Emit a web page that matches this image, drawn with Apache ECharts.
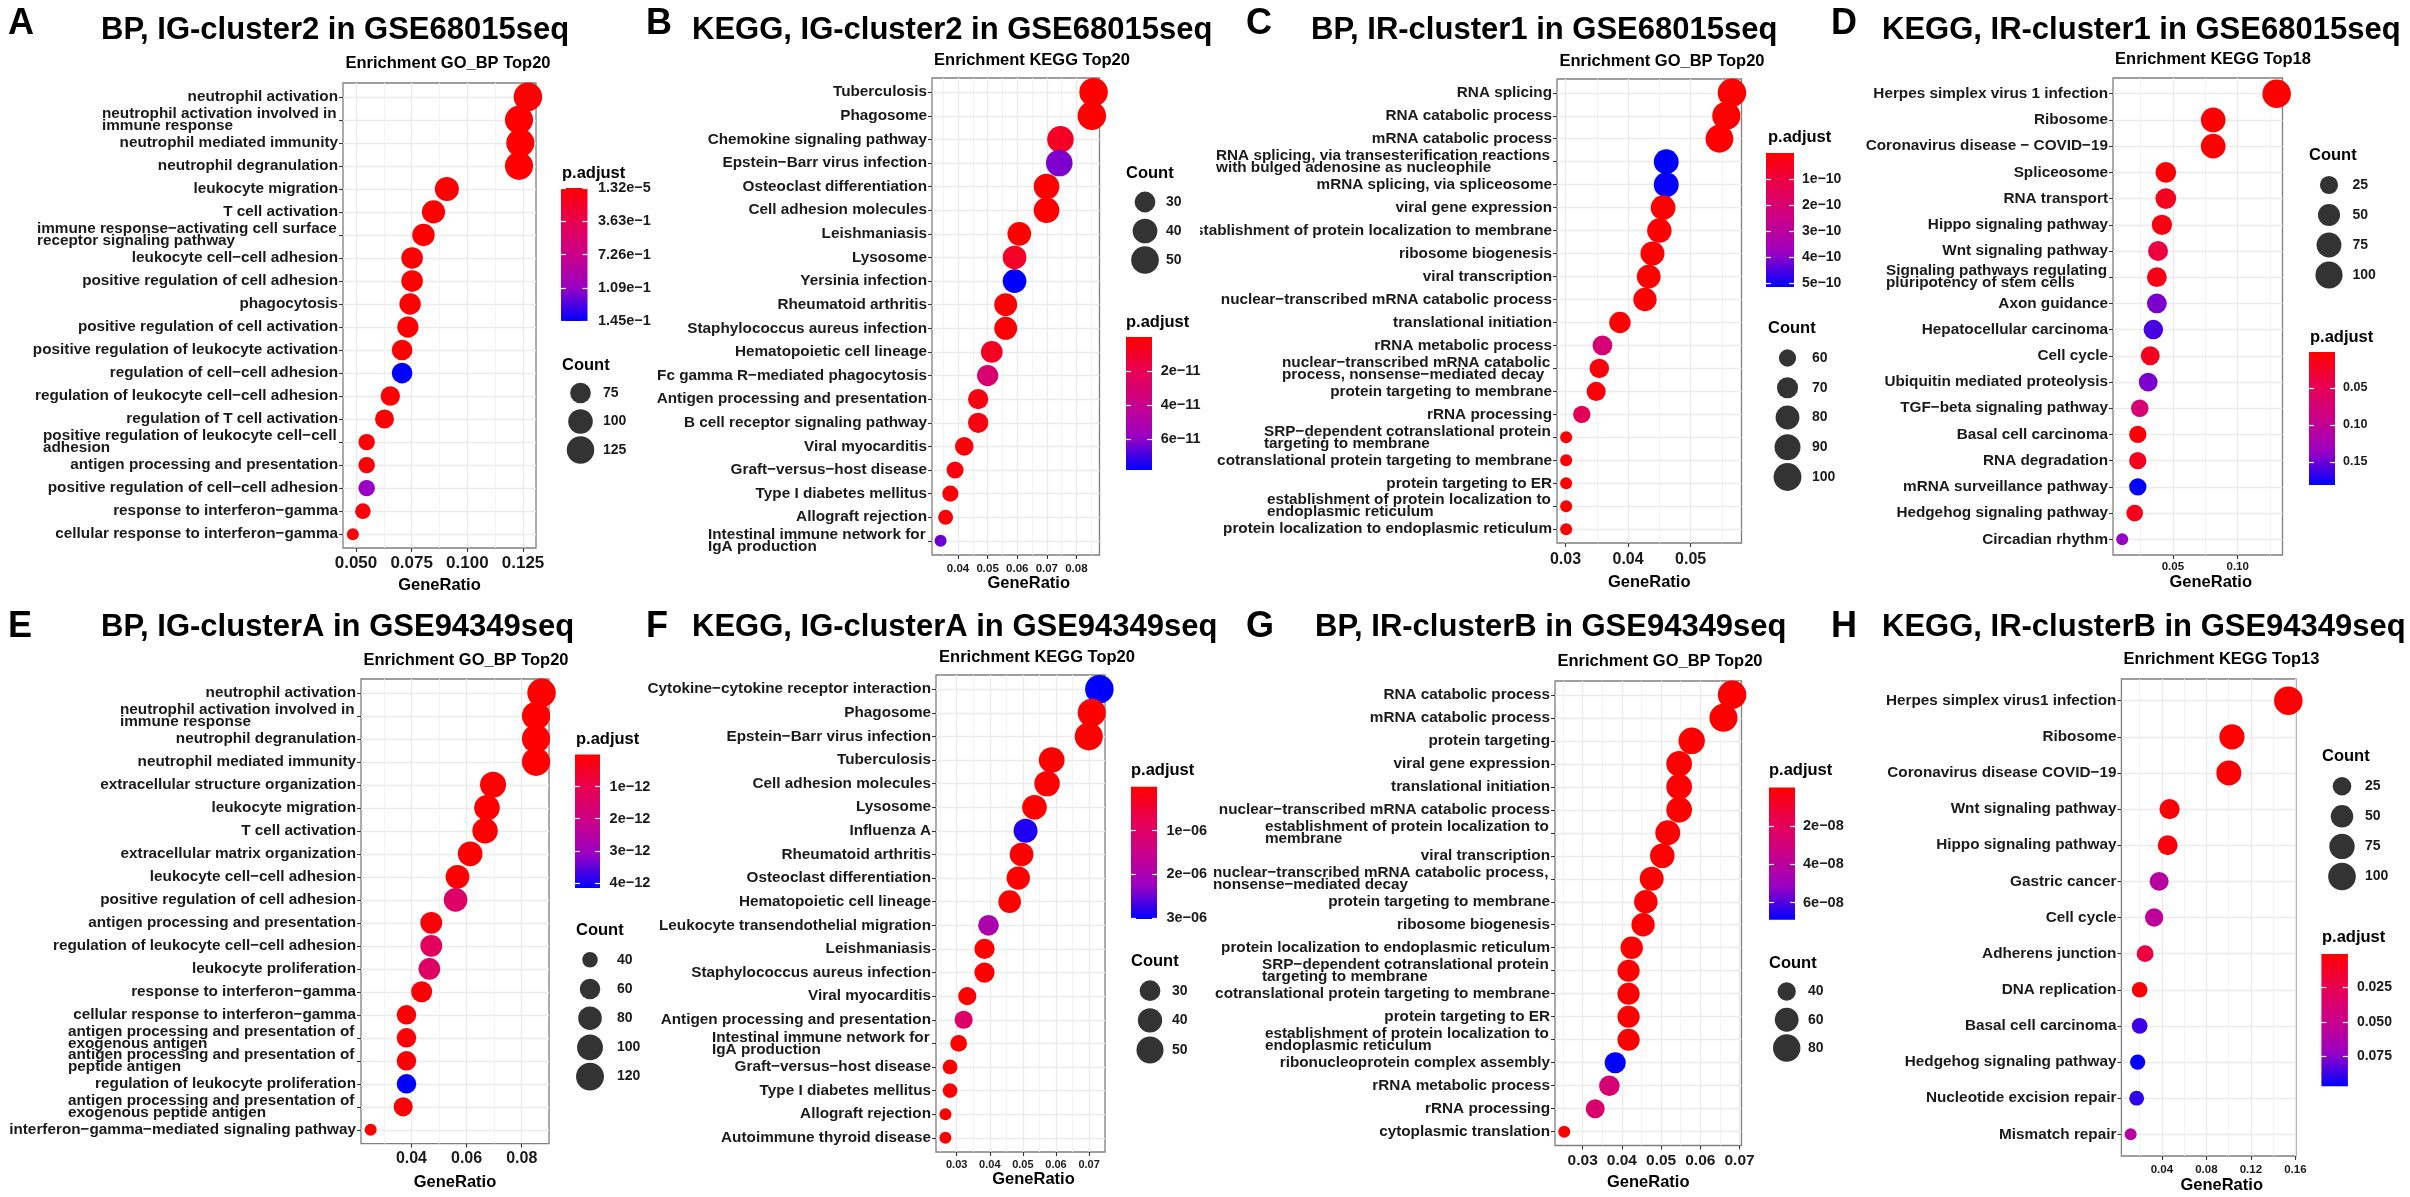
<!DOCTYPE html>
<html><head><meta charset="utf-8">
<script src="https://cdn.jsdelivr.net/npm/echarts@6/dist/echarts.min.js"></script>
<style>html,body{margin:0;padding:0;background:#fff}#c{width:2410px;height:1197px}</style>
</head><body><div id="c"></div>
<script>
// ---------------- DATA ----------------
const A_terms = ['neutrophil activation','neutrophil activation involved in\nimmune response','neutrophil mediated immunity','neutrophil degranulation','leukocyte migration','T cell activation','immune response−activating cell surface\nreceptor signaling pathway','leukocyte cell−cell adhesion','positive regulation of cell adhesion','phagocytosis','positive regulation of cell activation','positive regulation of leukocyte activation','regulation of cell−cell adhesion','regulation of leukocyte cell−cell adhesion','regulation of T cell activation','positive regulation of leukocyte cell−cell\nadhesion','antigen processing and presentation','positive regulation of cell−cell adhesion','response to interferon−gamma','cellular response to interferon−gamma'];
const A_ratio = [0.1272,0.1232,0.1238,0.1232,0.0908,0.0848,0.0803,0.0752,0.0752,0.0743,0.0733,0.0707,0.0707,0.0654,0.0628,0.0548,0.0548,0.0548,0.0531,0.0486];
const A_count = [135,131,131,131,96,90,85,80,80,79,78,75,75,69,67,58,58,58,56,52];
const A_padj = [1.32e-56,4.1e-55,3.2e-55,8.6e-55,2.4e-30,5.1e-28,1.2e-27,3.3e-26,3.5e-26,6.2e-26,8.4e-26,2.2e-24,1.45e-18,4.8e-22,1.3e-21,2.1e-20,2.6e-20,1.09e-18,5.5e-20,3.4e-20];
const A_xticks = [0.05,0.075,0.1,0.125];
const A_pticks = [1.32e-56,3.63e-19,7.26e-19,1.09e-18,1.45e-18];
const A_plabels = ['1.32e−56','3.63e−19','7.26e−19','1.09e−18','1.45e−18'];
const A_countKeys = [75,100,125];

const B_terms = ['Tuberculosis','Phagosome','Chemokine signaling pathway','Epstein−Barr virus infection','Osteoclast differentiation','Cell adhesion molecules','Leishmaniasis','Lysosome','Yersinia infection','Rheumatoid arthritis','Staphylococcus aureus infection','Hematopoietic cell lineage','Fc gamma R−mediated phagocytosis','Antigen processing and presentation','B cell receptor signaling pathway','Viral myocarditis','Graft−versus−host disease','Type I diabetes mellitus','Allograft rejection','Intestinal immune network for\nIgA production'];
const B_ratio = [0.0858,0.0852,0.0746,0.0742,0.0699,0.0699,0.0607,0.0591,0.0591,0.0561,0.0561,0.0514,0.0500,0.0468,0.0468,0.0421,0.0390,0.0374,0.0358,0.0341];
const B_count = [53,53,46,46,43,43,37,37,37,35,35,32,31,29,29,26,24,23,22,21];
const B_padj = [1.0e-20,1.1e-19,9.0e-12,6.2e-11,5.0e-14,8.0e-14,3.0e-13,9.5e-12,7.8e-11,6.0e-13,8.0e-13,8.5e-12,3.0e-11,3.5e-12,4.0e-12,2.0e-12,3.0e-12,2.2e-12,2.5e-12,6.4e-11];
const B_xticks = [0.04,0.05,0.06,0.07,0.08];
const B_pticks = [2e-11,4e-11,6e-11];
const B_plabels = ['2e−11','4e−11','6e−11'];
const B_countKeys = [30,40,50];

const C_terms = ['RNA splicing','RNA catabolic process','mRNA catabolic process','RNA splicing, via transesterification reactions\nwith bulged adenosine as nucleophile','mRNA splicing, via spliceosome','viral gene expression','establishment of protein localization to membrane','ribosome biogenesis','viral transcription','nuclear−transcribed mRNA catabolic process','translational initiation','rRNA metabolic process','nuclear−transcribed mRNA catabolic\nprocess, nonsense−mediated decay','protein targeting to membrane','rRNA processing','SRP−dependent cotranslational protein\ntargeting to membrane','cotranslational protein targeting to membrane','protein targeting to ER','establishment of protein localization to\nendoplasmic reticulum','protein localization to endoplasmic reticulum'];
const C_ratio = [0.0566,0.0557,0.0546,0.0461,0.0461,0.0456,0.0450,0.0439,0.0433,0.0427,0.0387,0.0359,0.0354,0.0349,0.0326,0.0301,0.0301,0.0301,0.0301,0.0301];
const C_count = [104,102,100,85,85,84,83,81,80,78,71,66,65,64,60,55,55,55,55,55];
const C_padj = [1.0e-20,3.0e-19,1.0e-18,5.16e-10,5.1e-10,2.0e-15,5.0e-15,1.0e-14,3.0e-14,5.0e-14,1.0e-12,2.1e-10,2.0e-11,1.5e-11,1.5e-10,1.0e-12,1.1e-12,1.2e-12,1.3e-12,1.5e-12];
const C_xticks = [0.03,0.04,0.05];
const C_pticks = [1e-10,2e-10,3e-10,4e-10,5e-10];
const C_plabels = ['1e−10','2e−10','3e−10','4e−10','5e−10'];
const C_countKeys = [60,70,80,90,100];

const D_terms = ['Herpes simplex virus 1 infection','Ribosome','Coronavirus disease − COVID−19','Spliceosome','RNA transport','Hippo signaling pathway','Wnt signaling pathway','Signaling pathways regulating\npluripotency of stem cells','Axon guidance','Hepatocellular carcinoma','Cell cycle','Ubiquitin mediated proteolysis','TGF−beta signaling pathway','Basal cell carcinoma','RNA degradation','mRNA surveillance pathway','Hedgehog signaling pathway','Circadian rhythm'];
const D_ratio = [0.1300,0.0811,0.0811,0.0446,0.0446,0.0416,0.0386,0.0377,0.0377,0.0350,0.0326,0.0310,0.0245,0.0230,0.0230,0.0230,0.0206,0.0110];
const D_count = [117,73,73,40,40,37,35,34,34,32,29,28,22,21,21,21,19,10];
const D_padj = [0.0014,0.0020,0.0021,0.0050,0.0194,0.0104,0.0373,0.0140,0.145,0.160,0.0194,0.145,0.0732,0.0050,0.0194,0.181,0.0158,0.136];
const D_xticks = [0.05,0.10];
const D_pticks = [0.05,0.10,0.15];
const D_plabels = ['0.05','0.10','0.15'];
const D_countKeys = [25,50,75,100];

const E_terms = ['neutrophil activation','neutrophil activation involved in\nimmune response','neutrophil degranulation','neutrophil mediated immunity','extracellular structure organization','leukocyte migration','T cell activation','extracellular matrix organization','leukocyte cell−cell adhesion','positive regulation of cell adhesion','antigen processing and presentation','regulation of leukocyte cell−cell adhesion','leukocyte proliferation','response to interferon−gamma','cellular response to interferon−gamma','antigen processing and presentation of\nexogenous antigen','antigen processing and presentation of\npeptide antigen','regulation of leukocyte proliferation','antigen processing and presentation of\nexogenous peptide antigen','interferon−gamma−mediated signaling pathway'];
const E_ratio = [0.0872,0.0852,0.0852,0.0852,0.0696,0.0674,0.0667,0.0613,0.0567,0.0560,0.0472,0.0472,0.0465,0.0437,0.0382,0.0382,0.0382,0.0382,0.0370,0.0252];
const E_count = [126,123,123,123,101,97,96,89,82,81,68,68,67,63,55,55,55,55,53,36];
const E_padj = [1.0e-20,2.0e-20,2.2e-20,3.0e-20,1.0e-16,2.0e-16,3.0e-16,5.0e-15,4.0e-14,1.46e-12,1.2e-13,1.25e-12,1.37e-12,8.0e-14,5.0e-14,6.0e-14,7.0e-14,4.16e-12,9.0e-14,1.0e-14];
const E_xticks = [0.04,0.06,0.08];
const E_pticks = [1e-12,2e-12,3e-12,4e-12];
const E_plabels = ['1e−12','2e−12','3e−12','4e−12'];
const E_countKeys = [40,60,80,100,120];

const F_terms = ['Cytokine−cytokine receptor interaction','Phagosome','Epstein−Barr virus infection','Tuberculosis','Cell adhesion molecules','Lysosome','Influenza A','Rheumatoid arthritis','Osteoclast differentiation','Hematopoietic cell lineage','Leukocyte transendothelial migration','Leishmaniasis','Staphylococcus aureus infection','Viral myocarditis','Antigen processing and presentation','Intestinal immune network for\nIgA production','Graft−versus−host disease','Type I diabetes mellitus','Allograft rejection','Autoimmune thyroid disease'];
const F_ratio = [0.0731,0.0708,0.0699,0.0587,0.0573,0.0535,0.0508,0.0496,0.0486,0.0460,0.0396,0.0384,0.0384,0.0332,0.0321,0.0306,0.0280,0.0280,0.0266,0.0266];
const F_count = [56,54,54,45,44,41,39,38,37,35,30,29,29,25,25,23,21,21,20,20];
const F_padj = [3.02e-6,1.0e-20,2.0e-20,1.0e-16,2.0e-16,1.0e-15,2.87e-6,5.0e-15,8.0e-15,2.0e-14,1.96e-6,5.0e-12,6.0e-12,2.0e-9,1.06e-6,5.0e-10,1.0e-9,1.2e-9,2.0e-9,3.0e-9];
const F_xticks = [0.03,0.04,0.05,0.06,0.07];
const F_pticks = [1e-6,2e-6,3e-6];
const F_plabels = ['1e−06','2e−06','3e−06'];
const F_countKeys = [30,40,50];

const G_terms = ['RNA catabolic process','mRNA catabolic process','protein targeting','viral gene expression','translational initiation','nuclear−transcribed mRNA catabolic process','establishment of protein localization to\nmembrane','viral transcription','nuclear−transcribed mRNA catabolic process,\nnonsense−mediated decay','protein targeting to membrane','ribosome biogenesis','protein localization to endoplasmic reticulum','SRP−dependent cotranslational protein\ntargeting to membrane','cotranslational protein targeting to membrane','protein targeting to ER','establishment of protein localization to\nendoplasmic reticulum','ribonucleoprotein complex assembly','rRNA metabolic process','rRNA processing','cytoplasmic translation'];
const G_ratio = [0.0681,0.0659,0.0578,0.0546,0.0546,0.0546,0.0517,0.0503,0.0476,0.0461,0.0454,0.0425,0.0417,0.0417,0.0417,0.0417,0.0383,0.0368,0.0332,0.0253];
const G_count = [87,84,74,70,70,70,66,64,61,59,58,54,53,53,53,53,49,47,42,32];
const G_padj = [1.0e-16,2.0e-16,1.0e-14,3.0e-14,4.0e-14,5.0e-14,1.0e-13,2.0e-13,5.0e-13,8.0e-13,1.0e-12,2.0e-12,3.0e-12,3.2e-12,3.4e-12,3.6e-12,6.9e-8,2.8e-8,2.6e-8,1.0e-11];
const G_xticks = [0.03,0.04,0.05,0.06,0.07];
const G_pticks = [2e-8,4e-8,6e-8];
const G_plabels = ['2e−08','4e−08','6e−08'];
const G_countKeys = [40,60,80];

const H_terms = ['Herpes simplex virus1 infection','Ribosome','Coronavirus disease COVID−19','Wnt signaling pathway','Hippo signaling pathway','Gastric cancer','Cell cycle','Adherens junction','DNA replication','Basal cell carcinoma','Hedgehog signaling pathway','Nucleotide excision repair','Mismatch repair'];
const H_ratio = [0.1537,0.1030,0.1002,0.0469,0.0452,0.0375,0.0330,0.0249,0.0200,0.0200,0.0182,0.0173,0.0119];
const H_count = [110,74,72,34,32,27,24,18,14,14,13,12,9];
const H_padj = [0.00055,0.0010,0.0011,0.0030,0.0040,0.058,0.055,0.0198,0.0025,0.087,0.0966,0.089,0.058];
const H_xticks = [0.04,0.08,0.12,0.16];
const H_pticks = [0.025,0.05,0.075];
const H_plabels = ['0.025','0.050','0.075'];
const H_countKeys = [25,50,75,100];

// ---------------- LAYOUT / STYLE ----------------
const FONT = '"Liberation Sans", Arial, Helvetica, sans-serif';
const PAL = ['#FF0000','#E80050','#CA0089','#9A00C3','#0000FF'];
const DMIN = 12, DMAX = 28.5;
const TXT = '#1a1a1a';

const layout = {
  A:{letter:[8,24], title:[101,30], sub:[448,63], grid:[343,83,536,548], xlim:[0.04417,0.13083], dec:3, xfs:17, xm:6.5, ng:29, ns:0,
     ptitle:[562,173], pbar:[561,188,587.5,321], pm:10.5, pfs:14.5, pclip:57, ctitle:[562,365], cleg:[580.5,393,450], cm:7.5},
  B:{letter:[646,24], title:[692,30], sub:[1032,60], grid:[932,78,1099.5,555], xlim:[0.0312,0.0878], dec:2, xfs:11.5, xm:7.5, ng:20, ns:13,
     ptitle:[1126,322], pbar:[1126,337,1152,470], pm:8.7, pfs:14.5, ctitle:[1126,173], cleg:[1145,202,260], cm:6},
  C:{letter:[1246,24], title:[1311,30], sub:[1662,61], grid:[1557,79,1741.5,543], xlim:[0.02864,0.05813], dec:2, xfs:16, xm:9, ng:31, ns:0,
     ptitle:[1768,137], pbar:[1766,153,1794,287], pm:8, pfs:14, ctitle:[1768,328], cleg:[1787.5,358,477], cm:9.5},
  D:{letter:[1831,24], title:[1882,30], sub:[2213,59], grid:[2113,78,2282.5,555], xlim:[0.0039,0.1345], dec:2, xfs:11.5, xm:6, ng:19, ns:13,
     ptitle:[2310,337], pbar:[2309,352,2335,485], pm:8, pfs:12.5, ctitle:[2309,155], cleg:[2329,185,275], cm:8.5},
  E:{letter:[8,627], title:[101,627], sub:[466,660], grid:[361,679,549,1143.6], xlim:[0.0217,0.0899], dec:2, xfs:16, xm:7.4, ng:30, ns:0,
     ptitle:[576,739], pbar:[575,754.5,600,888], pm:9.6, pfs:14.5, ctitle:[576,930.7], cleg:[590,959.7,1076.6], cm:12},
  F:{letter:[646,627], title:[692,627], sub:[1037,657.7], grid:[936,675,1105,1152], xlim:[0.02375,0.0748], dec:2, xfs:11, xm:7.5, ng:19, ns:13,
     ptitle:[1131,770], pbar:[1131,786.7,1157,919], pm:9.4, pfs:14.5, ctitle:[1131,961.7], cleg:[1150,990.7,1050], cm:7},
  G:{letter:[1246,627], title:[1315,627], sub:[1660,661.6], grid:[1555,681,1741.5,1145.5], xlim:[0.02294,0.0705], dec:2, xfs:15.5, xm:7.5, ng:28.5, ns:0,
     ptitle:[1769,770], pbar:[1769,787.4,1795,919.8], pm:8, pfs:14.5, ctitle:[1769,963.6], cleg:[1786.7,991.5,1048], cm:6.3},
  H:{letter:[1831,627], title:[1882,627], sub:[2221.5,659], grid:[2121.4,679,2296,1156], xlim:[0.00358,0.1606], dec:2, xfs:11.5, xm:8, ng:18, ns:13,
     ptitle:[2322,937.7], pbar:[2321.4,953.9,2347.9,1086.3], pm:9, pfs:14, ctitle:[2322,756.5], cleg:[2342,786.3,876.5], cm:8}
};

const panels = [
  {k:'A', title:'BP, IG-cluster2 in GSE68015seq', sub:'Enrichment GO_BP Top20', terms:A_terms, ratio:A_ratio, count:A_count, padj:A_padj, xticks:A_xticks, pticks:A_pticks, plabels:A_plabels, ckeys:A_countKeys},
  {k:'B', title:'KEGG, IG-cluster2 in GSE68015seq', sub:'Enrichment KEGG Top20', terms:B_terms, ratio:B_ratio, count:B_count, padj:B_padj, xticks:B_xticks, pticks:B_pticks, plabels:B_plabels, ckeys:B_countKeys},
  {k:'C', title:'BP, IR-cluster1 in GSE68015seq', sub:'Enrichment GO_BP Top20', terms:C_terms, ratio:C_ratio, count:C_count, padj:C_padj, xticks:C_xticks, pticks:C_pticks, plabels:C_plabels, ckeys:C_countKeys},
  {k:'D', title:'KEGG, IR-cluster1 in GSE68015seq', sub:'Enrichment KEGG Top18', terms:D_terms, ratio:D_ratio, count:D_count, padj:D_padj, xticks:D_xticks, pticks:D_pticks, plabels:D_plabels, ckeys:D_countKeys},
  {k:'E', title:'BP, IG-clusterA in GSE94349seq', sub:'Enrichment GO_BP Top20', terms:E_terms, ratio:E_ratio, count:E_count, padj:E_padj, xticks:E_xticks, pticks:E_pticks, plabels:E_plabels, ckeys:E_countKeys},
  {k:'F', title:'KEGG, IG-clusterA in GSE94349seq', sub:'Enrichment KEGG Top20', terms:F_terms, ratio:F_ratio, count:F_count, padj:F_padj, xticks:F_xticks, pticks:F_pticks, plabels:F_plabels, ckeys:F_countKeys},
  {k:'G', title:'BP, IR-clusterB in GSE94349seq', sub:'Enrichment GO_BP Top20', terms:G_terms, ratio:G_ratio, count:G_count, padj:G_padj, xticks:G_xticks, pticks:G_pticks, plabels:G_plabels, ckeys:G_countKeys},
  {k:'H', title:'KEGG, IR-clusterB in GSE94349seq', sub:'Enrichment KEGG Top13', terms:H_terms, ratio:H_ratio, count:H_count, padj:H_padj, xticks:H_xticks, pticks:H_pticks, plabels:H_plabels, ckeys:H_countKeys}
];

// ---------------- BUILD ----------------
const YFS = 15.3, LH = 12;
const mctx = document.createElement('canvas').getContext('2d');
function textW(s, fs){ mctx.font = 'bold ' + fs + 'px ' + FONT; return mctx.measureText(s).width; }
function minorTicks(t){
  if (t.length < 2) return [];
  const st = t[1]-t[0], out = [t[0]-st/2];
  for (let i=0;i<t.length-1;i++) out.push((t[i]+t[i+1])/2);
  out.push(t[t.length-1]+st/2);
  return out;
}
const gradient = {type:'linear', x:0, y:0, x2:0, y2:1, colorStops: PAL.map((c,i)=>({offset:i/(PAL.length-1), color:c}))};
const NOLINE = {show:false, onZero:false};

const option = {animation:false, backgroundColor:'#fff', grid:[], xAxis:[], yAxis:[], series:[], visualMap:[], graphic:[]};
const txtStyle = (fs)=>({fontSize:fs, fontWeight:'bold', fontFamily:FONT, color:TXT});

panels.forEach(P=>{
  const L = layout[P.k];
  const n = P.terms.length;
  const cmin = Math.min(...P.count), cmax = Math.max(...P.count);
  const sizeOf = c => DMIN + (DMAX-DMIN)*Math.sqrt(Math.max(0, c-cmin)/(cmax-cmin));
  const pmin = Math.min(...P.padj), pmax = Math.max(...P.padj);
  const idx = P.terms.map((_,i)=>i);

  // rich styles for wrapped labels (lines left-aligned inside a right-aligned block)
  const rich = {};
  P.terms.forEach((t,i)=>{
    if (t.indexOf('\n')>=0){
      const w = Math.max(...t.split('\n').map(s=>textW(s, YFS)));
      rich['r'+i] = {width:Math.ceil(w)+1, align:'left', fontSize:YFS, fontWeight:'bold', fontFamily:FONT, color:TXT, lineHeight:LH};
    }
  });

  // main plot
  const g = option.grid.length;
  option.grid.push({left:L.grid[0], top:L.grid[1], width:L.grid[2]-L.grid[0], height:L.grid[3]-L.grid[1],
    show:true, backgroundColor:'#fff', borderColor:'#7f7f7f', borderWidth:1.3, containLabel:false, outerBoundsMode:'none'});
  const xi = option.xAxis.length;
  option.xAxis.push({type:'value', gridIndex:g, min:L.xlim[0], max:L.xlim[1], position:'bottom',
    axisLine:NOLINE,
    axisTick:{show:true, length:4, customValues:P.xticks, lineStyle:{color:'#333', width:1.1}},
    axisLabel:Object.assign({customValues:P.xticks, formatter:v=>v.toFixed(L.dec), margin:L.xm}, txtStyle(L.xfs)),
    splitLine:{show:true, lineStyle:{color:'#EBEBEB', width:1.3}},
    name:'GeneRatio', nameLocation:'middle', nameGap:L.ng,
    nameTextStyle:{fontSize:16.5, fontWeight:'bold', fontFamily:FONT, color:'#000', padding:[0,0,0,L.ns*2]}});
  const mt = minorTicks(P.xticks);
  option.xAxis.push({type:'value', gridIndex:g, min:L.xlim[0], max:L.xlim[1], position:'top',
    axisLine:NOLINE, axisTick:{show:false, length:0, customValues:mt, lineStyle:{color:'rgba(0,0,0,0)'}},
    axisLabel:{show:false, customValues:mt},
    splitLine:{show:true, lineStyle:{color:'#F0F0F0', width:0.8}}});
  const yi = option.yAxis.length;
  option.yAxis.push({type:'value', gridIndex:g, min:-0.6, max:n-0.4, inverse:true,
    axisLine:NOLINE,
    axisTick:{show:true, length:4, customValues:idx, lineStyle:{color:'#333', width:1.1}},
    axisLabel:Object.assign({customValues:idx, margin:5, lineHeight:LH, rich:rich,
      formatter:(v)=>{ const i=Math.round(v); const t=P.terms[i]; if(t===undefined) return '';
        return t.indexOf('\n')>=0 ? t.split('\n').map(s=>'{r'+i+'|'+s+'}').join('\n') : t; }}, txtStyle(YFS)),
    splitLine:{show:true, lineStyle:{color:'#EBEBEB', width:1.3}}});
  const si = option.series.length;
  option.series.push({type:'scatter', xAxisIndex:xi, yAxisIndex:yi, clip:true, z:3,
    data:P.ratio.map((r,i)=>[r, i, P.padj[i], P.count[i]]),
    symbolSize:v=>sizeOf(v[3]), itemStyle:{opacity:1}});
  option.visualMap.push({type:'continuous', show:false, seriesIndex:si, dimension:2, min:pmin, max:pmax, inRange:{color:PAL}});

  // p.adjust colour bar
  const gb = option.grid.length;
  option.grid.push({left:L.pbar[0], top:L.pbar[1], width:L.pbar[2]-L.pbar[0], height:L.pbar[3]-L.pbar[1],
    show:true, backgroundColor:gradient, borderWidth:0, outerBoundsMode:'none'});
  option.xAxis.push({type:'category', gridIndex:gb, data:[''], show:false, axisLine:NOLINE});
  const plab = Object.assign({customValues:P.pticks, margin:L.pm,
      formatter:v=>{ let b=0; P.pticks.forEach((t,i)=>{ if(Math.abs(t-v)<Math.abs(P.pticks[b]-v)) b=i; }); return P.plabels[b]; }}, txtStyle(L.pfs));
  if (L.pclip){ plab.width = L.pclip; plab.overflow = 'truncate'; plab.ellipsis = ''; }
  option.yAxis.push({type:'value', gridIndex:gb, min:pmin, max:pmax, inverse:true, position:'right', z:3,
    axisLine:NOLINE, splitLine:{show:false},
    axisTick:{show:true, inside:true, length:5, customValues:P.pticks, lineStyle:{color:'#fff', width:1.2}},
    axisLabel:plab});
  option.yAxis.push({type:'value', gridIndex:gb, min:pmin, max:pmax, inverse:true, position:'left', z:3,
    axisLine:NOLINE, splitLine:{show:false}, axisLabel:{show:false, customValues:P.pticks},
    axisTick:{show:true, inside:true, length:5, customValues:P.pticks, lineStyle:{color:'#fff', width:1.2}}});

  // Count size legend
  const nk = P.ckeys.length, sp = (L.cleg[2]-L.cleg[1])/(nk-1);
  const gl = option.grid.length;
  option.grid.push({left:L.cleg[0]-15, top:L.cleg[1]-sp/2, width:30, height:sp*nk, show:false, outerBoundsMode:'none'});
  const xl = option.xAxis.length;
  option.xAxis.push({type:'value', gridIndex:gl, min:0, max:1, show:false, axisLine:NOLINE});
  const yl = option.yAxis.length;
  option.yAxis.push({type:'category', gridIndex:gl, data:P.ckeys.map(String), inverse:true, position:'right', z:6,
    axisLine:NOLINE, axisTick:{show:false}, splitLine:{show:false},
    axisLabel:Object.assign({margin:L.cm}, txtStyle(14))});
  option.series.push({type:'scatter', xAxisIndex:xl, yAxisIndex:yl, clip:false, silent:true,
    data:P.ckeys.map((c,i)=>[0.5, i, c]), symbolSize:v=>sizeOf(v[2]), itemStyle:{color:'#000'}});

  // texts
  const T = (x,y,text,fs,align)=>({type:'text', x:x, y:y, silent:true, z:10,
    style:{text:text, fontSize:fs, fontWeight:'bold', fontFamily:FONT, fill:'#000', align:align||'left', verticalAlign:'middle'}});
  option.graphic.push(T(L.letter[0], L.letter[1], P.k, 36));
  option.graphic.push(T(L.title[0], L.title[1], P.title, 31));
  option.graphic.push(T(L.sub[0], L.sub[1], P.sub, 16.5, 'center'));
  option.graphic.push(T(L.ptitle[0], L.ptitle[1], 'p.adjust', 16.5));
  option.graphic.push(T(L.ctitle[0], L.ctitle[1], 'Count', 16.5));
});

// panel C's longest label is hidden under panel B's picture edge in the original figure
option.graphic.push({type:'rect', silent:true, z:5, shape:{x:1184, y:220, width:16, height:22}, style:{fill:'#fff'}});

const chart = echarts.init(document.getElementById('c'), null, {renderer:'canvas'});
chart.setOption(option);
</script></body></html>
